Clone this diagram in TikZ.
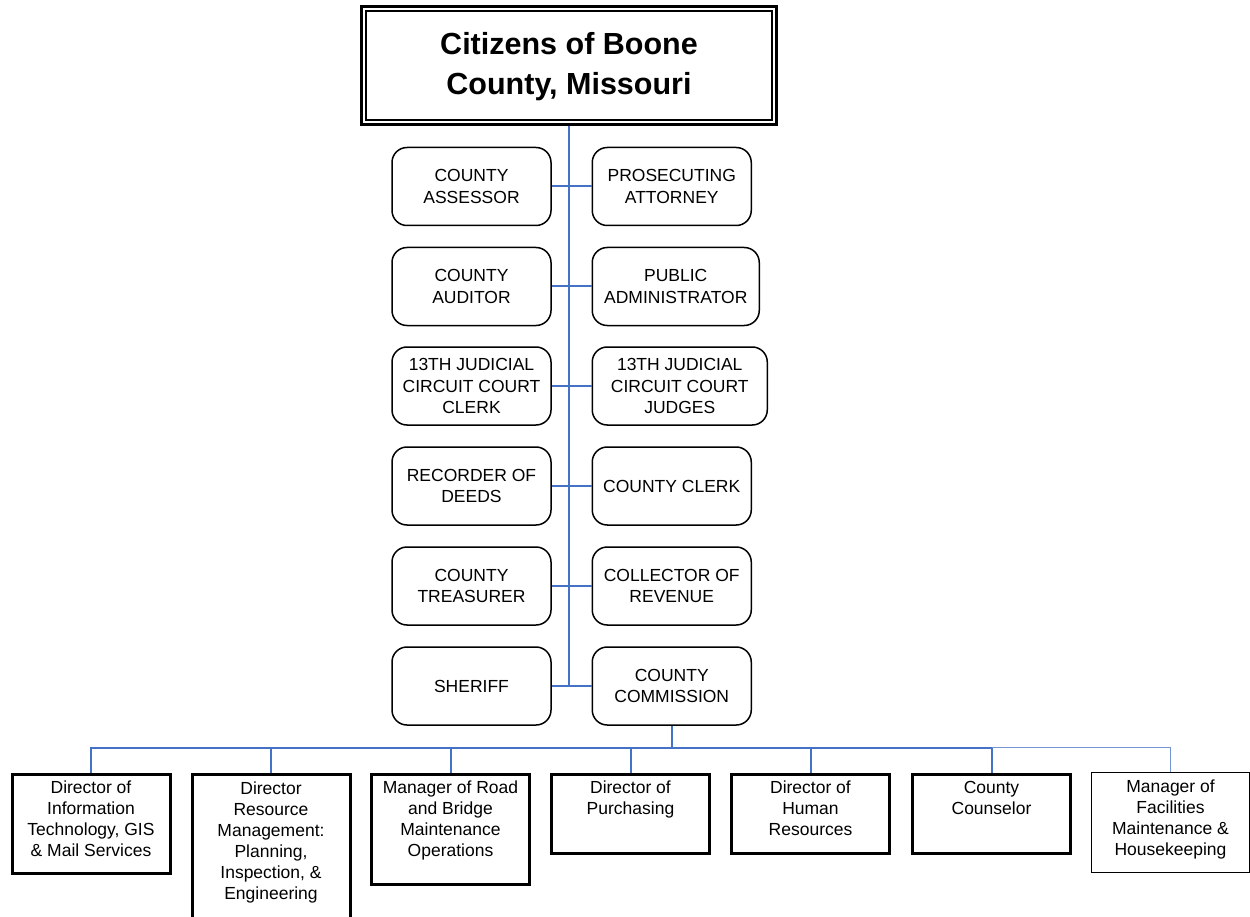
\documentclass[tikz,border=0pt]{standalone}
\usepackage{fontspec}
\setmainfont{Liberation Sans}
\begin{document}
\begin{tikzpicture}[x=1pt,y=-1pt,
  conn/.style={draw=linkblue,line width=2pt},
  connlight/.style={draw=linkblue!75,line width=1.3pt},
  office/.style={draw=black,line width=1.5pt,rounded corners=15pt,minimum height=78pt,align=center,inner sep=0pt,
    font=\fontsize{17.5}{21.5}\selectfont},
  leftoffice/.style={office,minimum width=159pt},
  dept/.style={draw=black,line width=3pt,minimum width=158pt,anchor=north,inner sep=0pt},
  deptthin/.style={draw=black,line width=1.5pt,minimum width=158pt,anchor=north,inner sep=0pt},
  depttext/.style={anchor=north,align=center,inner sep=0pt,font=\fontsize{17.5}{21}\selectfont},
  titletext/.style={align=center,font=\fontsize{30.5}{40}\selectfont\bfseries}
]
\definecolor{linkblue}{HTML}{4472C4}
\useasboundingbox (0,0) rectangle (1250,917);

% title box with double border
\node[draw=black,line width=3pt,minimum width=415pt,minimum height=118pt,inner sep=0pt] (title) at (569,65.5) {};
\node[draw=black,line width=1.5pt,minimum width=406pt,minimum height=109pt,inner sep=0pt] (titlein) at (569,65.5) {};
\node[titletext] (titlelbl) at (569,67) {Citizens of Boone\\County, Missouri};

% elected offices
\node[leftoffice] (l1) at (471.5,186.5) {COUNTY\\ASSESSOR};
\node[leftoffice] (l2) at (471.5,286.5) {COUNTY\\AUDITOR};
\node[leftoffice] (l3) at (471.5,386) {13TH JUDICIAL\\CIRCUIT COURT\\CLERK};
\node[leftoffice] (l4) at (471.5,486) {RECORDER OF\\DEEDS};
\node[leftoffice] (l5) at (471.5,586) {COUNTY\\TREASURER};
\node[leftoffice] (l6) at (471.5,686) {SHERIFF};

\node[office,minimum width=159pt,anchor=west] (r1) at (591.5,186.5) {PROSECUTING\\ATTORNEY};
\node[office,minimum width=167pt,anchor=west] (r2) at (591.5,286.5) {PUBLIC\\ADMINISTRATOR};
\node[office,minimum width=175pt,anchor=west] (r3) at (591.5,386) {13TH JUDICIAL\\CIRCUIT COURT\\JUDGES};
\node[office,minimum width=159pt,anchor=west] (r4) at (591.5,486) {COUNTY CLERK};
\node[office,minimum width=159pt,anchor=west] (r5) at (591.5,586) {COLLECTOR OF\\REVENUE};
\node[office,minimum width=159pt,anchor=west] (r6) at (591.5,686) {COUNTY\\COMMISSION};

% trunk and row connectors
\coordinate (trunkend) at (title.south |- l6.east);
\draw[conn] (title.south) -- (trunkend);
\foreach \i in {1,...,6} { \draw[conn] (l\i.east) -- (r\i.west); }

% departments
\node[dept,minimum height=99pt] (b1) at (91,772.5) {};
\node[dept,minimum height=150pt] (b2) at (271,772.5) {};
\node[dept,minimum height=110pt] (b3) at (450.5,772.5) {};
\node[dept,minimum height=79pt] (b4) at (630.5,772.5) {};
\node[dept,minimum height=79pt] (b5) at (810.5,772.5) {};
\node[dept,minimum height=79pt] (b6) at (991.5,772.5) {};
\node[deptthin,minimum height=100pt] (b7) at (1170.5,771.5) {};

\node[depttext] (t1) at (91,781) {Director of\\Information\\Technology, GIS\\\& Mail Services};
\node[depttext] (t2) at (271,782) {Director\\Resource\\Management:\\Planning,\\Inspection, \&\\Engineering};
\node[depttext] (t3) at (450.5,781) {Manager of Road\\and Bridge\\Maintenance\\Operations};
\node[depttext] (t4) at (630.5,781) {Director of\\Purchasing};
\node[depttext] (t5) at (810.5,781) {Director of\\Human\\Resources};
\node[depttext] (t6) at (991.5,781) {County\\Counselor};
\node[depttext] (t7) at (1170.5,780) {Manager of\\Facilities\\Maintenance \&\\Housekeeping};

% bus
\draw[conn] (r6.south) -- ++(0,22) coordinate (bus);
\foreach \i in {1,...,6} { \draw[conn] (b\i.north) |- (bus); }
\draw[connlight] (b7.north) |- (b6.north |- bus);
\end{tikzpicture}
\end{document}
